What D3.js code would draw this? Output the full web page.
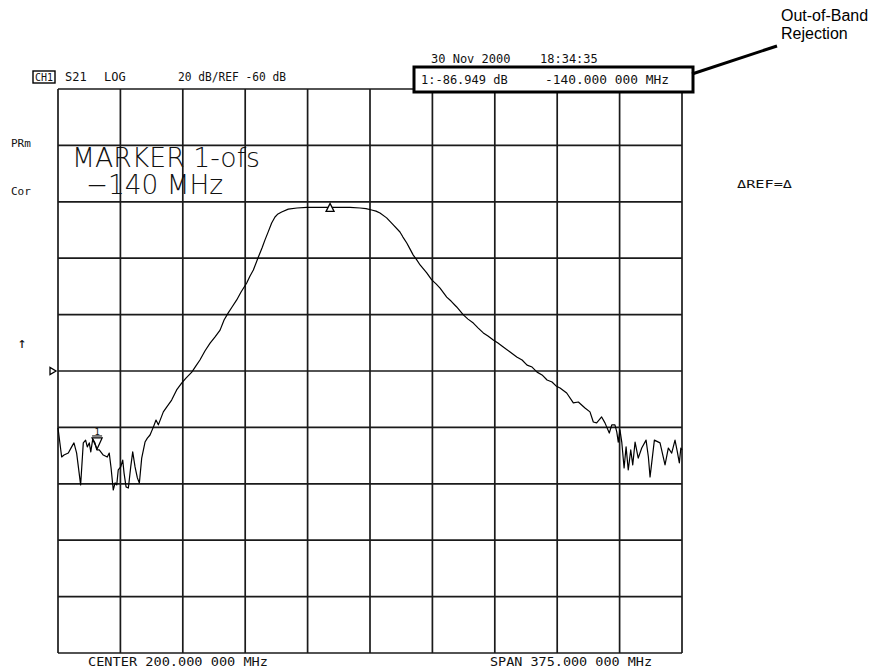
<!DOCTYPE html>
<html>
<head>
<meta charset="utf-8">
<script src="https://cdn.jsdelivr.net/npm/d3@7"></script>
<style>
  html, body { margin: 0; padding: 0; background: #fff; }
  svg { display: block; }
  .mono { font-family: 'DejaVu Sans Mono', 'Liberation Mono', monospace; fill: #111; }
  .big { font-family: 'DejaVu Sans', 'Noto Sans', sans-serif; font-weight: 200; fill: #111; }
  .callout { font-family: 'Liberation Sans', Arial, sans-serif; fill: #000; }
</style>
</head>
<body>
<script>
// ---- Data ----
const centerMHz = 200;
const spanMHz = 375;
const refLevelDb = -60;
const dbPerDiv = 20;

// grid lines (10 divisions each way)
const gridFreqs = [12.5, 50, 87.5, 125, 162.5, 200, 237.5, 275, 312.5, 350, 387.5];
const gridLevels = [40, 20, 0, -20, -40, -60, -80, -100, -120, -140, -160];

// trace: S21 magnitude
const freqMHz = [12.5,14.7,16.1,18.7,20.7,22.1,23.7,26.1,27.7,29.1,
  30.1,31.3,32.2,33.4,34.7,35.8,37.3,39.7,42.1,43.3,
  44.4,45.7,46.8,47.8,48.7,50.2,51.4,52.2,53.4,54.8,
  56.2,57.4,58.8,60.2,61.4,62.8,64.8,66.2,67.8,69.8,
  71.4,72.8,75.8,77.8,80.8,83.8,86.8,89.4,92.9,95.4,
  97.8,100.8,103.9,106.9,109.9,112.3,114.8,117.1,119.9,122.5,
  125.9,127.9,129.9,132.9,135.1,136.9,139,140.9,142.9,144.7,
  146.9,150.9,156.1,162,170,179,188,194,197.6,201,
  203.6,206,210,214,218,219.8,222.1,224,226,228.1,
  230.1,234.1,237.1,239.7,242.1,246.1,248.7,252.1,256.1,258.9,
  262.1,264.9,268.1,270.9,274.1,276.9,280.1,284.2,288.2,291.4,
  294.4,297.4,300.4,303.4,306.4,309.4,311.8,314.2,318.2,322.2,
  325.2,329.2,332.2,334.2,336.2,339.2,341.2,343.8,345.3,347.2,
  348.3,349.2,350.2,351.3,352.7,353.9,355.2,356.7,357.9,359.3,
  361.2,363.3,365.9,367.3,368.3,369.3,370.9,374.3,377.3,379.3,
  381.3,383.3,384.7,385.9,386.8,387.5];
const s21dB = [-80.2,-90.5,-89.8,-89.1,-86.9,-85.5,-89.1,-100.4,-85.5,-84.5,
  -86.9,-85.5,-88.7,-84.1,-85.5,-88.0,-88.0,-89.8,-90.5,-89.1,
  -94.4,-102.2,-99.7,-100.4,-95.1,-94.0,-91.6,-96.2,-101.1,-101.5,
  -94.0,-88.7,-94.0,-97.9,-99.7,-90.9,-85.2,-83.8,-82.7,-79.9,
  -77.4,-79.1,-74.5,-72.8,-70.3,-66.7,-64.3,-62.5,-60.4,-58.2,
  -56.1,-52.9,-50.1,-47.9,-45.5,-41.9,-39.4,-37.3,-34.8,-32.0,
  -28.8,-26.3,-24.2,-19.6,-16.4,-13.5,-10.4,-7.5,-5.4,-4.3,
  -3.6,-2.6,-2.2,-2.0,-2.0,-2.0,-2.0,-2.2,-2.4,-2.9,
  -3.3,-4.0,-5.7,-8.2,-10.7,-12.5,-14.6,-16.7,-18.9,-20.6,
  -22.4,-25.2,-27.7,-29.1,-30.6,-33.8,-35.2,-37.3,-40.1,-41.6,
  -43.0,-44.7,-46.5,-47.6,-49.0,-50.1,-51.5,-53.3,-55.0,-56.1,
  -57.9,-58.6,-60.4,-61.4,-63.2,-63.9,-65.3,-66.0,-67.8,-71.3,
  -71.0,-73.1,-74.5,-78.1,-78.4,-76.3,-78.4,-82.0,-79.1,-79.1,
  -81.6,-85.2,-80.9,-85.2,-94.4,-86.9,-95.1,-88.0,-93.3,-85.2,
  -90.9,-87.3,-84.5,-90.5,-97.6,-92.6,-84.5,-85.5,-93.3,-87.3,
  -89.1,-84.5,-88.7,-92.6,-87.3,-88.0];

// markers
const refMarker = { freq: 176, level: -2.0 };
const marker1 = { freq: 36, level: -88.0, label: "1" };

// texts
const headerTexts = ["CH1", "S21", "LOG", "20 dB/REF -60 dB"];
const dateText = ["30 Nov 2000", "18:34:35"];
const readoutTexts = ["1:-86.949 dB", "-140.000 000 MHz"];
const sideTexts = ["PRm", "Cor"];
const markerTitle = ["MARKER 1-ofs", "\u2212140 MHz"];
const footerTexts = ["CENTER 200.000 000 MHz", "SPAN 375.000 000 MHz"];
const calloutLines = ["Out-of-Band", "Rejection"];

// ---- Drawing ----
const W = 871, H = 670;
const svg = d3.select("body").append("svg").attr("width", W).attr("height", H);

const x = d3.scaleLinear()
  .domain([centerMHz - spanMHz / 2, centerMHz + spanMHz / 2])
  .range([58, 682]);
const y = d3.scaleLinear()
  .domain([refLevelDb + 5 * dbPerDiv, refLevelDb - 5 * dbPerDiv])
  .range([89, 653]);

const gridColor = "#1a1a1a";
const g = svg.append("g");

// vertical grid lines
g.selectAll("line.v").data(gridFreqs).join("line")
  .attr("class", "v")
  .attr("x1", d => x(d)).attr("x2", d => x(d))
  .attr("y1", y.range()[0]).attr("y2", y.range()[1])
  .attr("stroke", gridColor).attr("stroke-width", 1.7);
// horizontal grid lines
g.selectAll("line.h").data(gridLevels).join("line")
  .attr("class", "h")
  .attr("x1", x.range()[0]).attr("x2", x.range()[1])
  .attr("y1", d => y(d)).attr("y2", d => y(d))
  .attr("stroke", gridColor).attr("stroke-width", 1.7);

// trace
const traceData = freqMHz.map((f, i) => [f, s21dB[i]]);
svg.append("path")
  .datum(traceData)
  .attr("fill", "none")
  .attr("stroke", "#000")
  .attr("stroke-width", 1.2)
  .attr("stroke-linejoin", "round")
  .attr("d", d3.line().x(d => x(d[0])).y(d => y(d[1])));

// reference (delta) marker: small upward triangle
{
  const cx = x(refMarker.freq), cy = y(refMarker.level);
  svg.append("path")
    .attr("d", `M${cx - 4},${cy + 4} L${cx + 4},${cy + 4} L${cx},${cy - 4} Z`)
    .attr("fill", "#fff").attr("stroke", "#000").attr("stroke-width", 1.3);
}
// marker 1: inverted triangle with number above
{
  const cx = x(marker1.freq), cy = y(marker1.level);
  svg.append("path")
    .attr("d", `M${cx - 5},${cy - 12} L${cx + 5},${cy - 12} L${cx},${cy - 1} Z`)
    .attr("fill", "none").attr("stroke", "#000").attr("stroke-width", 1.3);
  svg.append("line")
    .attr("x1", cx - 5).attr("x2", cx + 5)
    .attr("y1", cy - 14).attr("y2", cy - 14)
    .attr("stroke", "#000").attr("stroke-width", 1);
  svg.append("text").attr("class", "mono")
    .attr("x", cx).attr("y", cy - 15)
    .attr("text-anchor", "middle").attr("font-size", 9)
    .text(marker1.label);
}
// reference position indicator on the left
{
  const ry = y(refLevelDb);
  svg.append("path")
    .attr("d", `M${50},${ry - 3.5} L${50},${ry + 3.5} L${56},${ry} Z`)
    .attr("fill", "#fff").attr("stroke", "#000").attr("stroke-width", 1.3);
  svg.append("text").attr("class", "mono")
    .attr("x", 22).attr("y", y(refLevelDb) - 23)
    .attr("text-anchor", "middle").attr("font-size", 15)
    .text("\u2191");
}

// header
const mono = (txt, px, py, size, len) => {
  const t = svg.append("text").attr("class", "mono")
    .attr("x", px).attr("y", py).attr("font-size", size).text(txt);
  if (len) t.attr("textLength", len).attr("lengthAdjust", "spacingAndGlyphs");
  return t;
};
svg.append("rect").attr("x", 33).attr("y", 71).attr("width", 22).attr("height", 12)
  .attr("fill", "none").attr("stroke", "#000").attr("stroke-width", 1.4);
mono(headerTexts[0], 35, 81, 10, 18);
mono(headerTexts[1], 65, 81, 12);
mono(headerTexts[2], 104, 81, 12);
mono(headerTexts[3], 178, 81, 12, 108);

mono(dateText[0], 431, 63, 12);
mono(dateText[1], 540, 63, 12);

// readout box
svg.append("rect").attr("x", 414).attr("y", 67).attr("width", 279).attr("height", 25)
  .attr("fill", "#fff").attr("stroke", "#000").attr("stroke-width", 3);
mono(readoutTexts[0], 421, 84, 12);
mono(readoutTexts[1], 545, 84, 12, 124);

// left side labels
mono(sideTexts[0], 11, 147, 11);
mono(sideTexts[1], 11, 195, 11);
// delta ref label
mono("\u0394REF=\u0394", 737, 188, 10, 55);

// big marker text
svg.append("text").attr("class", "big")
  .attr("x", 72).attr("y", 167).attr("font-size", 26)
  .attr("textLength", 188).attr("lengthAdjust", "spacingAndGlyphs")
  .text(markerTitle[0]);
svg.append("text").attr("class", "big")
  .attr("x", 86).attr("y", 194).attr("font-size", 26)
  .attr("textLength", 137).attr("lengthAdjust", "spacingAndGlyphs")
  .text(markerTitle[1]);

// footer
mono(footerTexts[0], 88, 666, 12, 180);
mono(footerTexts[1], 490, 666, 12, 162);

// callout
svg.append("text").attr("class", "callout")
  .attr("x", 781).attr("y", 21).attr("font-size", 16).text(calloutLines[0]);
svg.append("text").attr("class", "callout")
  .attr("x", 781).attr("y", 39).attr("font-size", 16).text(calloutLines[1]);
svg.append("line")
  .attr("x1", 692).attr("y1", 74).attr("x2", 777).attr("y2", 46)
  .attr("stroke", "#000").attr("stroke-width", 3);
</script>
</body>
</html>
